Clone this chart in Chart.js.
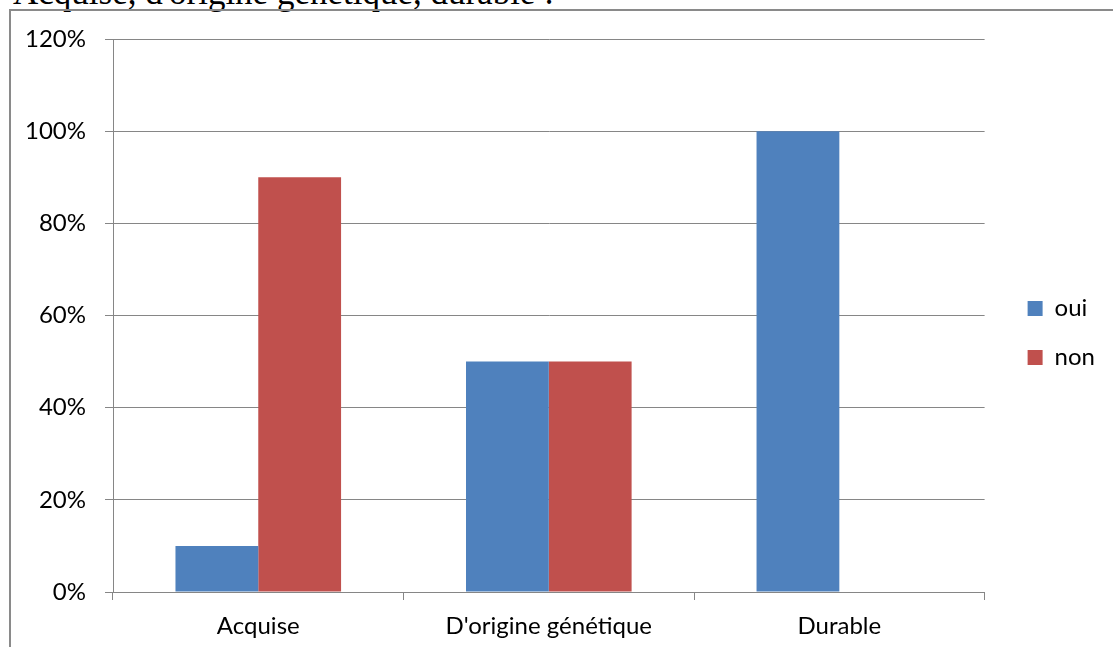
<!DOCTYPE html>
<html>
<head>
<meta charset="utf-8">
<script src="https://cdn.jsdelivr.net/npm/chart.js@4"></script>
<style>
  body { margin: 0; background: #fff; }
  #page { position: relative; width: 1113px; height: 647px; overflow: hidden; }
  #heading {
    position: absolute; left: 13px; top: -25px; margin: 0;
    font-family: "Liberation Serif", "Times New Roman", serif;
    font-size: 35px; line-height: 35px; font-weight: normal; color: #000;
    white-space: nowrap;
  }
  #frame {
    position: absolute; left: 9px; top: 9px; width: 1200px; height: 700px;
    border-left: 2px solid #8a8a8a; border-top: 2px solid #8a8a8a;
  }
  #chartBox { position: absolute; left: 0; top: 0; width: 1113px; height: 647px; }
</style>
</head>
<body>
<div id="page">
  <div id="heading">Acquise, d'origine génétique, durable :</div>
  <div id="frame"></div>
  <div id="chartBox"><canvas id="reponsesChart" width="1113" height="647"></canvas></div>
</div>
<script>
// values
const categories = ['Acquise', "D'origine génétique", 'Durable'];
const seriesNames = ['oui', 'non'];
const ouiValues = [10, 50, 100];
const nonValues = [90, 50, 0];
const yTickLabels = ['0%', '20%', '40%', '60%', '80%', '100%', '120%'];

const gridGray = '#868686';
const labelFont = { family: 'Lato, Calibri, sans-serif', size: 24 };

const ctx = document.getElementById('reponsesChart').getContext('2d');

// empty axis used only to reserve space around the plot
function spacer(position, size) {
  return {
    type: 'linear',
    position: position,
    display: true,
    ticks: { display: false },
    grid: { display: false, drawTicks: false },
    border: { display: false },
    afterFit: (scale) => {
      if (scale.isHorizontal()) scale.height = size;
      else scale.width = size;
    }
  };
}

const reponsesChart = new Chart(ctx, {
  type: 'bar',
  data: {
    labels: categories,
    datasets: [{
      label: seriesNames[0],
      data: ouiValues,
      backgroundColor: '#4F81BD',
      borderWidth: 0
    }, {
      label: seriesNames[1],
      data: nonValues,
      backgroundColor: '#C0504D',
      borderWidth: 0
    }]
  },
  options: {
    responsive: false,
    animation: false,
    datasets: {
      bar: { categoryPercentage: 0.57, barPercentage: 1 }
    },
    layout: {
      padding: { top: 19, left: 0, bottom: 0, right: 8 }
    },
    plugins: {
      tooltip: { enabled: false },
      legend: {
        position: 'right',
        labels: {
          boxWidth: 15,
          boxHeight: 15,
          padding: 25,
          color: '#000',
          font: labelFont
        }
      }
    },
    scales: {
      x: {
        grid: {
          offset: true,
          drawOnChartArea: false,
          drawTicks: true,
          tickLength: 8,
          color: gridGray,
          lineWidth: 1
        },
        border: { display: true, color: gridGray, width: 1 },
        ticks: { color: '#000', font: labelFont, padding: 12, maxRotation: 0 },
        afterFit: (scale) => { scale.height = 55; }
      },
      y: {
        min: 0,
        max: 120,
        ticks: {
          stepSize: 20,
          color: '#000',
          font: labelFont,
          padding: 19,
          callback: (value) => yTickLabels[Math.round(value / 20)]
        },
        grid: { color: gridGray, lineWidth: 1, tickLength: 8 },
        border: { display: true, color: gridGray, width: 1 },
        afterFit: (scale) => { scale.width = 113; }
      },
      topGap: spacer('top', 20),
      legendGap: spacer('right', 18)
    }
  }
});
</script>
</body>
</html>
